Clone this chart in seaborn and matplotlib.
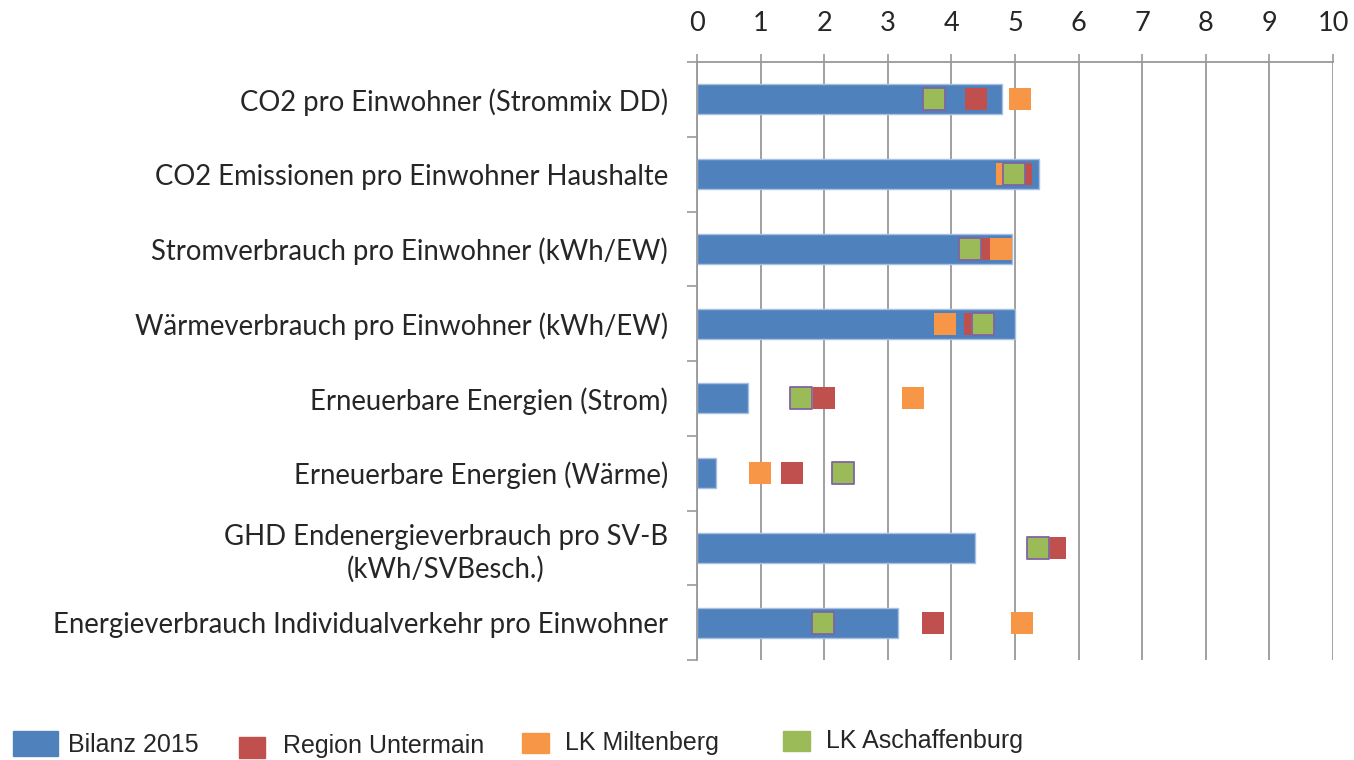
import numpy as np
import pandas as pd
import matplotlib
matplotlib.use("Agg")
import matplotlib.pyplot as plt
from matplotlib.patches import Rectangle
import seaborn as sns

# ----------------------------------------------------------
# DATA
# ----------------------------------------------------------
categories = [
    "CO2 pro Einwohner (Strommix DD)",
    "CO2 Emissionen pro Einwohner Haushalte",
    "Stromverbrauch pro Einwohner (kWh/EW)",
    "Wärmeverbrauch pro Einwohner (kWh/EW)",
    "Erneuerbare Energien (Strom)",
    "Erneuerbare Energien (Wärme)",
    "GHD Endenergieverbrauch pro SV-B\n(kWh/SVBesch.)",
    "Energieverbrauch Individualverkehr pro Einwohner",
]
bilanz_2015 = [4.80, 5.38, 4.96, 5.00, 0.80, 0.30, 4.37, 3.16]
region_untermain = [4.38, 5.09, 4.45, 4.37, 2.00, 1.49, 5.63, 3.71]
lk_miltenberg = [5.08, 4.87, 4.78, 3.90, 3.40, 0.99, 5.38, 5.11]
lk_aschaffenburg = [3.72, 4.99, 4.29, 4.49, 1.64, 2.30, 5.36, 1.98]
series_names = ["Bilanz 2015", "Region Untermain", "LK Miltenberg", "LK Aschaffenburg"]
x_ticks = list(range(0, 11))

# ----------------------------------------------------------
# STYLE
# ----------------------------------------------------------
sns.set_style("white")
plt.rcParams["font.family"] = ["Lato", "DejaVu Sans"]

BLUE = "#4f81bd"
RED = "#c0504d"
ORANGE = "#f79646"
GREEN = "#9bbb59"
GRID = "#999999"

W, H = 1354, 760
fig = plt.figure(figsize=(W / 100, H / 100), dpi=100)
ax = fig.add_axes([697 / W, 1 - 660 / H, (1333 - 697) / W, (660 - 62) / H])

pos = np.arange(len(categories))
df = pd.DataFrame({"cat": categories, "pos": pos, "bilanz": bilanz_2015})

sns.barplot(data=df, x="bilanz", y="cat", orient="h", color=BLUE,
            saturation=1, width=0.4, edgecolor="#a7bfe0", linewidth=1.0,
            ax=ax, zorder=2)

marker_size = 15.5 ** 2
sns.scatterplot(x=region_untermain, y=pos, marker="s", s=marker_size,
                color=RED, linewidth=0, ax=ax, zorder=3)
sns.scatterplot(x=lk_miltenberg, y=pos, marker="s", s=marker_size,
                color=ORANGE, linewidth=0, ax=ax, zorder=4)
sns.scatterplot(x=lk_aschaffenburg, y=pos, marker="s", s=marker_size,
                color=GREEN, edgecolor="#8064a2", linewidth=1.3, ax=ax, zorder=5)

# axes
ax.set_xlim(0, 10)
ax.set_ylim(len(categories) - 0.5, -0.5)
ax.set_xticks(x_ticks)
ax.xaxis.tick_top()
ax.set_xlabel("")
ax.set_ylabel("")
ax.grid(axis="x", color=GRID, linewidth=1.3, zorder=0)
ax.set_axisbelow(True)
ax.tick_params(axis="x", labelsize=19.5, length=6, width=1.2, color=GRID,
               direction="out", pad=13, top=True, bottom=False)
ax.tick_params(axis="y", which="major", labelsize=19.8, length=0, pad=21)
ax.set_yticks(np.arange(-0.5, len(categories), 1.0), minor=True)
ax.tick_params(axis="y", which="minor", length=7, width=1.2, color=GRID, left=True)
for lbl in ax.get_yticklabels():
    lbl.set_multialignment("center")
    lbl.set_linespacing(1.28)

for side in ["right", "bottom"]:
    ax.spines[side].set_visible(False)
for side in ["left", "top"]:
    ax.spines[side].set_color(GRID)
    ax.spines[side].set_linewidth(1.3)

# legend (Excel-style, placed by hand along the bottom)
legend_colors = [BLUE, RED, ORANGE, GREEN]
legend_boxes = [(13, 731, 45, 25), (239, 737, 26, 21), (522, 733, 27, 20), (783, 731, 27, 20)]
legend_text_x = [68, 283, 565, 826]
legend_text_y = [745, 746, 743, 741]
for name, col, (bx, by, bw, bh), tx, ty in zip(series_names, legend_colors, legend_boxes,
                                               legend_text_x, legend_text_y):
    fig.patches.append(Rectangle((bx / W, 1 - (by + bh) / H), bw / W, bh / H,
                                 transform=fig.transFigure, color=col))
    fig.text(tx / W, 1 - ty / H, name, ha="left", va="center",
             family="Liberation Sans", fontsize=18)

plt.savefig("out.png", dpi=100)
plt.close()
